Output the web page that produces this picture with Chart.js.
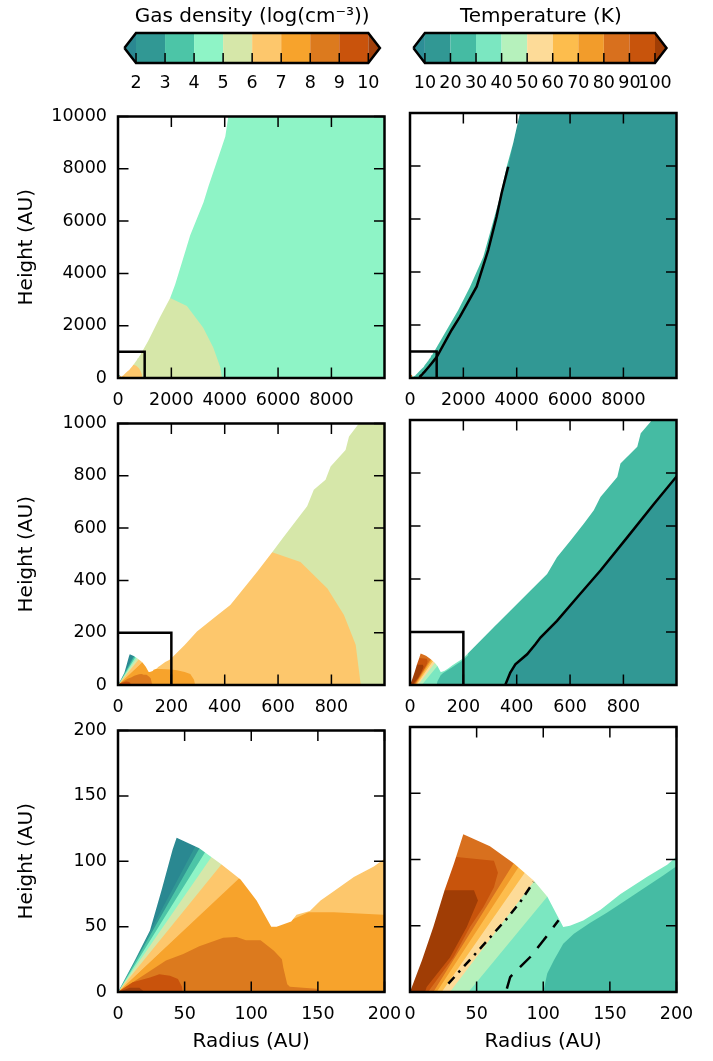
<!DOCTYPE html>
<html>
<head>
<meta charset="utf-8">
<script src="https://cdn.jsdelivr.net/npm/chart.js@4.4.1/dist/chart.umd.min.js"></script>
<style>
  body { margin: 0; background: #fff; }
  #fig { position: relative; width: 713px; height: 1061px; overflow: hidden; background: #fff; }
  canvas { position: absolute; }
</style>
</head>
<body>
<div id="fig">
  <canvas id="cbDens" width="305" height="100" style="left:100px;top:0px"></canvas>
  <canvas id="cbTemp" width="282" height="100" style="left:400px;top:0px"></canvas>
  <canvas id="densTop" width="430" height="323" style="left:0px;top:95px"></canvas>
  <canvas id="tempTop" width="333" height="323" style="left:380px;top:95px"></canvas>
  <canvas id="densMid" width="430" height="323" style="left:0px;top:402px"></canvas>
  <canvas id="tempMid" width="333" height="323" style="left:380px;top:402px"></canvas>
  <canvas id="densBot" width="430" height="352" style="left:0px;top:709px"></canvas>
  <canvas id="tempBot" width="333" height="352" style="left:380px;top:709px"></canvas>
</div>
<script>
// ---- colour levels ----
const densLevels = [2, 3, 4, 5, 6, 7, 8, 9, 10];
// <2, 2-3, 3-4, 4-5, 5-6, 6-7, 7-8, 8-9, 9-10, >10
const densColors = ['#2a8891', '#319894', '#4cc5a7', '#8ef4c6', '#d6e7a9', '#fdc76c', '#f7a32c', '#dc7a1e', '#c9530c', '#a1400b'];
const tempLevels = [10, 20, 30, 40, 50, 60, 70, 80, 90, 100];
// <10, 10-20, 20-30, 30-40, 40-50, 50-60, 60-70, 70-80, 80-90, 90-100, >100
const tempColors = ['#2d8e96', '#319894', '#45bba3', '#7be7c1', '#b6f1bc', '#fddb98', '#fdbd4d', '#f29c2b', '#d8701e', '#c8540c', '#a03d05'];

// ---- axis ticks per zoom level ----
const ticksOuterX = [0, 2000, 4000, 6000, 8000];
const ticksOuterY = [0, 2000, 4000, 6000, 8000, 10000];
const ticksMidX = [0, 200, 400, 600, 800];
const ticksMidY = [0, 200, 400, 600, 800, 1000];
const ticksInner = [0, 50, 100, 150, 200];

// ---- gas density regions, (radius, height) in AU ----
const d4to5 = [[0, 0], [10000, 0], [10000, 10000], [0, 10000]];
const d5to6 = [[0, 0], [3898, 0], [3835, 415], [3571, 1170], [3195, 1925], [2583, 2755], [1955, 3057], [1200, 3500], [0, 3700]];
const d6to7 = [[0, 0], [910, 0], [891, 154], [847, 268], [785, 369], [684, 470], [578, 508], [450, 560], [0, 600]];
const d7to8 = [[0, 0], [92, 88], [106, 72], [117, 52], [122, 52], [130, 55], [143, 61], [162, 61], [199, 59], [221, 56], [250, 50], [271, 42], [285, 20], [289, 0]];
const d8to9 = [[0, 0], [24, 16], [36, 24], [49, 29], [61, 35], [79, 41.5], [89, 42], [96, 39.5], [107, 39.5], [117, 31.5], [123, 25], [124, 19], [127, 6], [129, 4], [149, 2.5], [152, 0]];
const d9to10 = [[0, 0], [11, 7.5], [24, 11], [31, 13.5], [39, 12.5], [45, 10], [48, 4], [48.5, 0]];
const dAbove10 = [[0, 0], [9, 3.3], [16, 3.3], [20, 0]];
// outflow-wall fan: ray ends for 6-7, 5-6, 4-5, 3-4, 2-3, <2
const densFanRays = [[117, 113], [101, 127], [91, 134], [85, 139], [79, 142], [75, 144]];
const densFanTop = 170;
// empty cavity (outside the model grid)
const densWall = [[0, 0], [12, 23], [24, 47], [33, 79], [41, 109], [44, 118], [61, 110], [77, 98], [92, 86], [104, 70], [115, 50], [119, 50], [130, 54], [134, 59], [144, 62], [152, 70], [159, 75], [177, 88], [192, 96], [200, 102], [250, 153], [296, 205], [358, 255], [421, 306], [471, 369], [521, 432], [578, 508], [615, 558], [653, 609], [709, 684], [734, 747], [778, 785], [797, 836], [853, 899], [866, 950], [903, 1000], [1140, 1434], [1568, 2313], [1955, 3057], [2143, 3574], [2519, 4830], [2707, 5460], [3207, 6717], [3395, 7347], [3898, 8856], [4023, 9233], [4135, 10000], [4135, 10500], [0, 10500]];

// ---- temperature regions ----
const t10to20 = [[0, 0], [10000, 0], [10000, 10000], [0, 10000]];
const tempLine = [[357, 0], [376, 47], [395, 78], [439, 116], [470, 154], [489, 179], [551, 242], [627, 331], [714, 432], [815, 558], [915, 684], [1000, 788], [1561, 1811], [1873, 2313], [2498, 3445], [2933, 4830], [3246, 6087], [3434, 6970], [3682, 7974]];
const t20to30 = [[0, 0]].concat(tempLine, [[3869, 8868], [4120, 10000], [0, 10000]]);
const t30to40 = [[0, 0], [100, 0], [103, 14], [108, 24], [115, 36.5], [123, 44], [135, 52], [148, 60], [160, 68], [175, 78], [190, 88], [200, 95], [218, 112], [218, 300], [0, 300]];
const t40to50 = [[0, 0], [43.9, 0], [102.8, 71.7], [114, 85], [114, 300], [0, 300]];
const t50to60 = [[0, 0], [30, 0], [92.7, 83], [104, 98], [104, 300], [0, 300]];
const t60to70 = [[0, 0], [23.8, 0], [86.5, 90.6], [96, 103], [96, 300], [0, 300]];
const t70to80 = [[0, 0], [20, 0], [81.5, 94.4], [90, 107], [90, 300], [0, 300]];
const t80to90 = [[0, 0], [17.5, 0], [77.7, 96.9], [86, 109], [86, 300], [0, 300]];
const t90to100 = [[0, 0], [13.5, 0], [32.5, 26], [45, 49], [55, 64], [63, 79], [66, 90], [63, 99], [33, 102], [0, 102]];
const tAbove100 = [[0, 0], [11.3, 0], [12.5, 3.8], [30, 26], [42.6, 49], [51, 69], [48, 76.8], [27.6, 76.8], [0, 76.8]];
const tempWall = [[0, 0], [9, 24], [17.5, 49], [26, 77], [33, 97], [40, 119], [60, 110], [78, 97], [93, 84], [103, 72], [115, 49], [120, 50], [130, 54], [143, 62], [158, 74], [178, 87], [193, 96], [200, 102], [251, 154], [313, 217], [376, 280], [451, 356], [514, 419], [551, 482], [602, 545], [652, 609], [689, 659], [714, 709], [777, 785], [789, 836], [852, 899], [865, 950], [902, 993], [1375, 1811], [1809, 2566], [2247, 3434], [2745, 4566], [3060, 5698], [3371, 6830], [3622, 7962], [3869, 8868], [4120, 10000], [4120, 10500], [0, 10500]];
const tempDashDot = [[28.8, 6.3], [40.1, 18.9], [52.6, 32.7], [62.6, 44.1], [72.7, 55.4], [82.7, 67.9], [92.7, 83]];
const tempDashed = [[72.7, 2.5], [75.2, 11.3], [80.2, 16.4], [90.2, 26.4], [100.2, 39], [111.5, 54.1]];

// zoom boxes
const box1000 = [[0, 1000], [1000, 1000], [1000, 0]];
const box200 = [[0, 200], [200, 200], [200, 0]];

Chart.defaults.font.family = "'DejaVu Sans', sans-serif";
Chart.defaults.color = '#000';

const P = a => a.map(([x, y]) => ({ x, y }));
const ring = a => P(a.concat([a[0]]));

function area(points, color) {
  return { data: ring(points), backgroundColor: color, borderColor: color, borderWidth: 0,
           fill: 'shape', pointRadius: 0, pointHitRadius: 0, tension: 0 };
}
function curve(points, dash, extra) {
  return Object.assign({ data: P(points), borderColor: '#000', borderWidth: 2.5, borderDash: dash || [],
           fill: false, pointRadius: 0, pointHitRadius: 0, tension: 0 }, extra || {});
}
// first entry ends up at the bottom
function stack(list) {
  const n = list.length;
  return list.map((d, i) => Object.assign(d, { order: n - i }));
}

// matplotlib-style ticks pointing into the axes, plus the frame
const inwardTicks = {
  id: 'inwardTicks',
  afterDatasetsDraw(chart, args, o) {
    const { ctx, chartArea: a, scales: { x, y } } = chart;
    ctx.save();
    ctx.strokeStyle = '#000';
    ctx.lineWidth = 1.5;
    ctx.beginPath();
    x.ticks.forEach(t => {
      const p = x.getPixelForValue(t.value);
      ctx.moveTo(p, a.bottom); ctx.lineTo(p, a.bottom - o.len);
      if (o.mirror) { ctx.moveTo(p, a.top); ctx.lineTo(p, a.top + o.len); }
    });
    if (o.mirror) {
      y.ticks.forEach(t => {
        const p = y.getPixelForValue(t.value);
        ctx.moveTo(a.left, p); ctx.lineTo(a.left + o.len, p);
        ctx.moveTo(a.right, p); ctx.lineTo(a.right - o.len, p);
      });
    }
    ctx.stroke();
    if (o.frame) {
      ctx.lineWidth = o.frame;
      ctx.strokeRect(a.left, a.top, a.width, a.height);
    }
    ctx.restore();
  }
};

function densDatasets(box) {
  const list = [
    area(d4to5, densColors[3]), area(d5to6, densColors[4]), area(d6to7, densColors[5]),
    area(d7to8, densColors[6]), area(d8to9, densColors[7]), area(d9to10, densColors[8]),
    area(dAbove10, densColors[9])
  ];
  densFanRays.forEach((r, i) => list.push(area([[0, 0], r, [0, densFanTop]], densColors[5 - i])));
  list.push(area(densWall, '#ffffff'));
  if (box) list.push(curve(box));
  return stack(list);
}

function tempDatasets(box, withDashes) {
  const list = [
    area(t10to20, tempColors[1]), area(t20to30, tempColors[2]), area(t30to40, tempColors[3]),
    area(t40to50, tempColors[4]), area(t50to60, tempColors[5]), area(t60to70, tempColors[6]),
    area(t70to80, tempColors[7]), area(t80to90, tempColors[8]), area(t90to100, tempColors[9]),
    area(tAbove100, tempColors[10]),
    area(tempWall, '#ffffff'),
    curve(tempLine)
  ];
  if (withDashes) {
    list.push(curve(tempDashDot, [9, 6, 2.5, 6]));
    list.push(curve(tempDashed, [15, 11]));
  }
  if (box) list.push(curve(box));
  return stack(list);
}

function panel(id, datasets, xMax, yMax, xTicks, yTicks, leftCol, bottomRow) {
  new Chart(document.getElementById(id), {
    type: 'line',
    data: { datasets },
    plugins: [inwardTicks],
    options: {
      animation: false, responsive: false, devicePixelRatio: 1, events: [],
      layout: { padding: { top: 18, right: leftCol ? 45.5 : 36.5, left: 0, bottom: 0 } },
      plugins: {
        legend: { display: false }, tooltip: { enabled: false },
        inwardTicks: { len: 10.5, mirror: true, frame: 2.5 }
      },
      scales: {
        x: {
          type: 'linear', min: 0, max: xMax,
          grid: { display: false, drawTicks: false }, border: { display: false },
          afterBuildTicks: s => { s.ticks = xTicks.map(v => ({ value: v })); },
          ticks: { padding: 11.5, autoSkip: false, maxRotation: 0,
                   font: { size: 17.5 }, callback: v => String(v) },
          title: { display: bottomRow, text: 'Radius (AU)', font: { size: 20 }, padding: { top: 0, bottom: 7 } },
          afterFit: s => { s.height = bottomRow ? 69 : 40; }
        },
        y: {
          type: 'linear', min: 0, max: yMax,
          grid: { display: false, drawTicks: false }, border: { display: false },
          afterBuildTicks: s => { s.ticks = yTicks.map(v => ({ value: v })); },
          ticks: { display: leftCol, padding: 11, autoSkip: false,
                   font: { size: 17.5 }, callback: v => String(v) },
          title: { display: leftCol, text: 'Height (AU)', font: { size: 20 }, padding: { top: 15, bottom: 0 } },
          afterFit: s => { s.width = leftCol ? 118 : 30; }
        }
      }
    }
  });
}

function colorbar(id, levels, colors, ext, title, padL, padR) {
  const lo = levels[0], hi = levels[levels.length - 1];
  const list = [];
  for (let i = 0; i < levels.length - 1; i++) {
    list.push(area([[levels[i], 0], [levels[i + 1], 0], [levels[i + 1], 1], [levels[i], 1]], colors[i + 1]));
  }
  list.push(area([[lo, 0], [lo, 1], [lo - ext, 0.5]], colors[0]));
  list.push(area([[hi, 0], [hi, 1], [hi + ext, 0.5]], colors[colors.length - 1]));
  list.push(curve([[lo - ext, 0.5], [lo, 1], [hi, 1], [hi + ext, 0.5], [hi, 0], [lo, 0], [lo - ext, 0.5]],
                  [], { clip: false, borderJoinStyle: 'miter' }));
  new Chart(document.getElementById(id), {
    type: 'line',
    data: { datasets: stack(list) },
    plugins: [inwardTicks],
    options: {
      animation: false, responsive: false, devicePixelRatio: 1, events: [],
      layout: { padding: { top: 0, left: padL, right: padR, bottom: 0 } },
      plugins: {
        legend: { display: false }, tooltip: { enabled: false },
        title: { display: true, text: title, color: '#000', font: { size: 20, weight: 'normal' },
                 padding: { top: 4.7, bottom: 4.3 } },
        inwardTicks: { len: 10, mirror: false, frame: 0 }
      },
      scales: {
        x: {
          type: 'linear', min: lo - ext, max: hi + ext,
          grid: { display: false, drawTicks: false }, border: { display: false },
          afterBuildTicks: s => { s.ticks = levels.map(v => ({ value: v })); },
          ticks: { padding: 9.7, autoSkip: false, maxRotation: 0, font: { size: 17.5 }, callback: v => String(v) },
          afterFit: s => { s.height = 37; }
        },
        y: { type: 'linear', min: 0, max: 1, display: false }
      }
    }
  });
}

colorbar('cbDens', densLevels, densColors, 0.4, 'Gas density (log(cm\u207B\u00B3))', 24.4, 25.1);
colorbar('cbTemp', tempLevels, tempColors, 4.5, 'Temperature (K)', 13.4, 13.7);

panel('densTop', densDatasets(box1000), 9990, 10000, ticksOuterX, ticksOuterY, true, false);
panel('tempTop', tempDatasets(box1000, false), 9990, 10000, ticksOuterX, ticksOuterY, false, false);
panel('densMid', densDatasets(box200), 999, 1000, ticksMidX, ticksMidY, true, false);
panel('tempMid', tempDatasets(box200, false), 999, 1000, ticksMidX, ticksMidY, false, false);
panel('densBot', densDatasets(null), 200, 200, ticksInner, ticksInner, true, true);
panel('tempBot', tempDatasets(null, true), 200, 200, ticksInner, ticksInner, false, true);
</script>
</body>
</html>
